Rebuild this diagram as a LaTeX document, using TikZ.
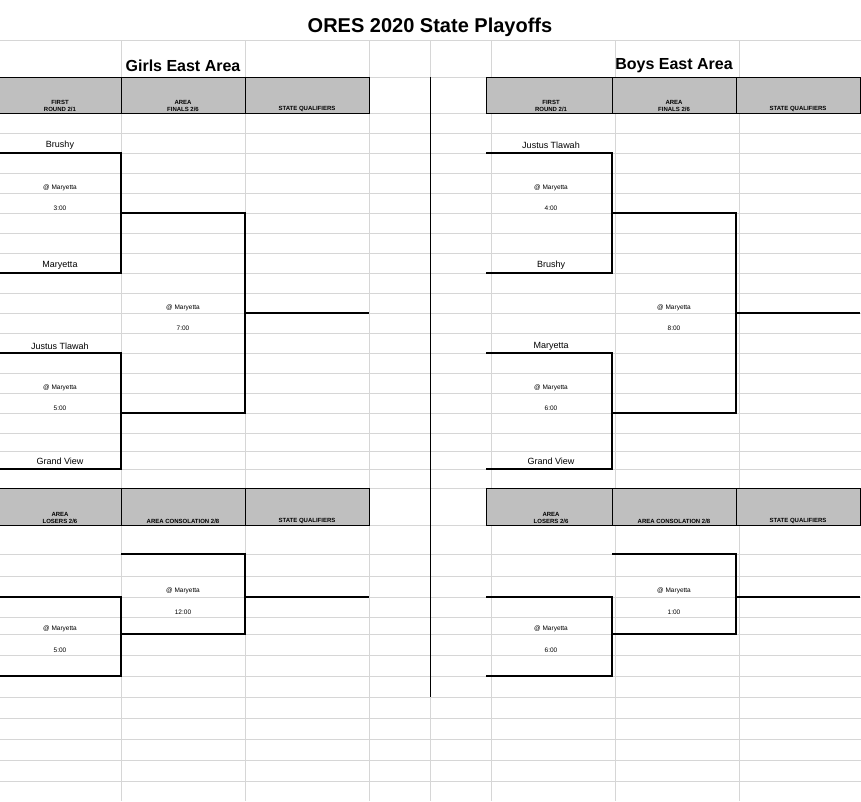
\documentclass[tikz,border=0pt]{standalone}
\usepackage{fontspec}
\setmainfont{Liberation Sans}
\begin{document}
\begin{tikzpicture}[x=1pt,y=-1pt,
  grid/.style={draw=black!16,line width=0.8pt},
  br/.style={draw=black,line width=1.6pt},
  hdr/.style={draw=black,fill=black!25,line width=0.8pt},
  ht/.style={font=\bfseries\fontsize{6}{7}\selectfont,align=center,anchor=south,inner sep=1pt},
  team/.style={font=\fontsize{9}{10}\selectfont,inner sep=0pt},
  small/.style={font=\fontsize{6.5}{7}\selectfont,inner sep=0pt},
  area/.style={font=\bfseries\fontsize{16}{18}\selectfont,inner sep=0pt}]
\useasboundingbox (0,0) rectangle (861,801);
\fill[white] (0,0) rectangle (861,801);
% gridlines
\foreach \y in {40,77,113,133,153,173,193,213,233,253,273,293,313,333,353,373,393,413,433,451,469,488,525,554,576,597,617,634,655,676,697,718,739,760,781}
  \draw[grid] (0,\y) -- (861,\y);
\foreach \x in {121,245,369,430,491,615,739}
  \draw[grid] (\x,40) -- (\x,801);
\draw[black,line width=0.8pt] (430,77) -- (430,697);
\node[font=\bfseries\fontsize{20}{22}\selectfont] (title) at (430,27) {ORES 2020 State Playoffs};
\foreach \ox/\nm/\la/\lb/\lc/\ld/\ta/\tb/\tc/\td/\te in {0/Girls East Area/Brushy/Maryetta/Justus Tlawah/Grand View/3:00/7:00/5:00/5:00/12:00, 491/Boys East Area/Justus Tlawah/Brushy/Maryetta/Grand View/4:00/8:00/6:00/6:00/1:00}{
\begin{scope}[xshift=\ox]
\node[area] (ar\ox) at (183,66) {\nm};
\fill[hdr] (-5,77) rectangle (121,113);
\draw[hdr] (121,77) rectangle (245,113);
\draw[hdr] (245,77) rectangle (369,113);
\fill[hdr] (-5,488) rectangle (121,525);
\draw[hdr] (121,488) rectangle (245,525);
\draw[hdr] (245,488) rectangle (369,525);
\draw[black,line width=0.8pt] (-5,77) -- (121,77) (-5,113) -- (121,113) (-5,488) -- (121,488) (-5,525) -- (121,525);
\node[ht] (h1\ox) at (60,113) {FIRST\\ROUND 2/1};
\node[ht] (h2\ox) at (183,113) {AREA\\FINALS 2/6};
\node[ht] (h3\ox) at (307,113) {STATE QUALIFIERS};
\node[ht] (h4\ox) at (60,525) {AREA\\LOSERS 2/6};
\node[ht] (h5\ox) at (183,525) {AREA CONSOLATION 2/8};
\node[ht] (h6\ox) at (307,525) {STATE QUALIFIERS};
% brackets
\draw[br] (-5,153) -- (121,153) -- (121,273) -- (-5,273);
\draw[br] (121,213) -- (245,213) -- (245,413) -- (121,413);
\draw[br] (245,313) -- (369,313);
\draw[br] (-5,353) -- (121,353) -- (121,469) -- (-5,469);
\draw[br] (121,554) -- (245,554) -- (245,634) -- (121,634);
\draw[br] (245,597) -- (369,597);
\draw[br] (-5,597) -- (121,597) -- (121,676) -- (-5,676);
\node[team] (ta\ox) at (60,145) {\la};
\node[team] (tb\ox) at (60,265) {\lb};
\node[team] (tc\ox) at (60,346) {\lc};
\node[team] (td\ox) at (60,461) {\ld};
\node[small] (m1\ox) at (60,188) {@ Maryetta};
\node[small] (s1\ox) at (60,208) {\ta};
\node[small] (m2\ox) at (183,308) {@ Maryetta};
\node[small] (s2\ox) at (183,328) {\tb};
\node[small] (m3\ox) at (60,388) {@ Maryetta};
\node[small] (s3\ox) at (60,408) {\tc};
\node[small] (m4\ox) at (60,629) {@ Maryetta};
\node[small] (s4\ox) at (60,650) {\td};
\node[small] (m5\ox) at (183,591) {@ Maryetta};
\node[small] (s5\ox) at (183,612) {\te};
\end{scope}}
\end{tikzpicture}
\end{document}
